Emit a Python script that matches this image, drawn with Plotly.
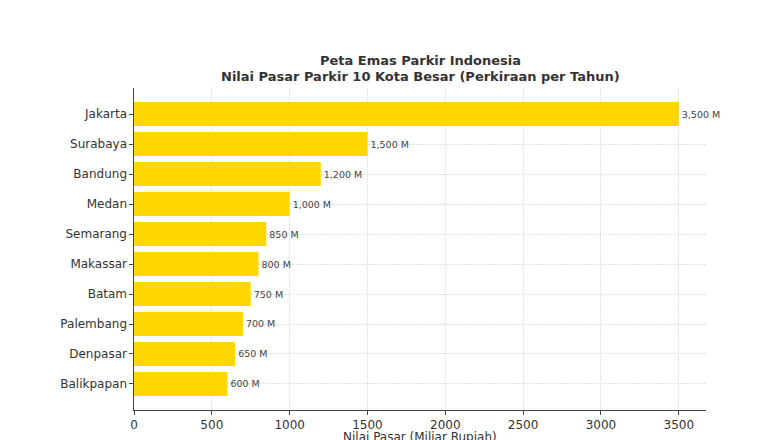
import plotly.graph_objects as go

cities = ["Jakarta", "Surabaya", "Bandung", "Medan", "Semarang", "Makassar",
          "Batam", "Palembang", "Denpasar", "Balikpapan"]
values = [3500, 1500, 1200, 1000, 850, 800, 750, 700, 650, 600]
labels = [f"{v:,} M" for v in values]
title_lines = ["Peta Emas Parkir Indonesia",
               "Nilai Pasar Parkir 10 Kota Besar (Perkiraan per Tahun)"]
x_title = "Nilai Pasar (Miliar Rupiah)"

fig = go.Figure(go.Bar(
    y=cities[::-1], x=values[::-1], orientation="h",
    marker=dict(color="#FFD700", line=dict(width=0)),
    width=0.8,
    text=labels[::-1], textposition="outside", cliponaxis=False,
    textfont=dict(family="DejaVu Sans", size=9.5, color="#444"),
))

for txt, yy in zip(title_lines, [1.0854, 1.0357]):
    fig.add_annotation(
        text=f"<b>{txt}</b>", xref="paper", yref="paper", x=0.5, y=yy,
        xanchor="center", yanchor="middle", showarrow=False,
        font=dict(family="DejaVu Sans", size=13, color="#333"),
    )

fig.add_annotation(
    text=x_title, xref="paper", yref="paper", x=0.5, y=-0.083,
    xanchor="center", yanchor="middle", showarrow=False,
    font=dict(family="DejaVu Sans", size=12, color="#333"),
)

fig.update_layout(
    width=772, height=432,
    margin=dict(l=126, r=74, t=80, b=30, autoexpand=False),
    paper_bgcolor="white", plot_bgcolor="white",
    font=dict(family="DejaVu Sans", color="#333"),
    showlegend=False,
    xaxis=dict(
        range=[0, 3675], tickvals=[0, 500, 1000, 1500, 2000, 2500, 3000, 3500],
        showgrid=True, gridcolor="#e2e2e2", griddash="2px,1px", gridwidth=1,
        showline=True, linecolor="#444", linewidth=1.2,
        ticks="outside", ticklen=3.5, tickcolor="#444",
        tickfont=dict(size=12, color="#333"), zeroline=False, automargin=False,
    ),
    yaxis=dict(
        range=[-0.867, 9.867], automargin=False,
        showgrid=True, gridcolor="#e2e2e2", griddash="2px,1px", gridwidth=1,
        showline=True, linecolor="#444", linewidth=1.2,
        ticks="outside", ticklen=3.5, tickcolor="#444",
        tickfont=dict(size=12, color="#333"),
    ),
)

fig.write_html("out.html")
